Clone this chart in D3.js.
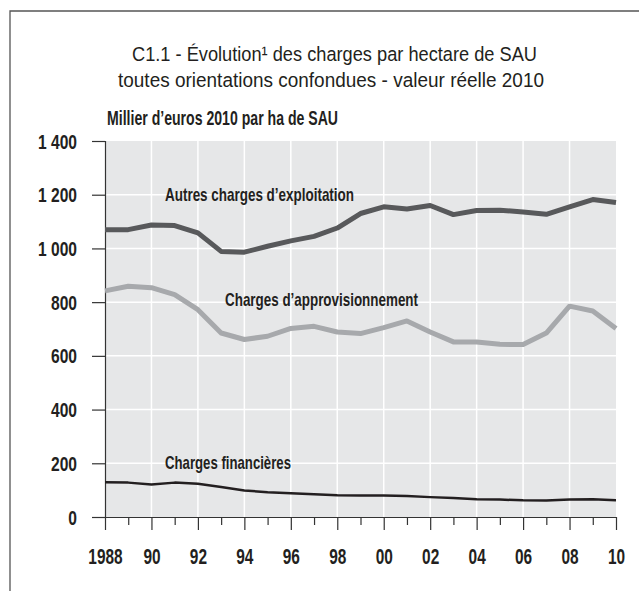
<!DOCTYPE html>
<html>
<head>
<meta charset="utf-8">
<script src="https://cdn.jsdelivr.net/npm/d3@7"></script>
<style>
  html, body { margin: 0; padding: 0; background: #ffffff; }
  svg { display: block; }
  text { font-family: "Liberation Sans", Arial, "DejaVu Sans", sans-serif; }
</style>
</head>
<body>
<svg id="chart" width="639" height="591"></svg>
<script>
// ---- Data ----
const years = [1988, 1989, 1990, 1991, 1992, 1993, 1994, 1995, 1996, 1997, 1998, 1999,
               2000, 2001, 2002, 2003, 2004, 2005, 2006, 2007, 2008, 2009, 2010];
const autresCharges = [1070, 1070, 1087, 1085, 1058, 989, 986, 1008, 1028, 1045, 1076, 1130,
                       1155, 1147, 1160, 1126, 1141, 1142, 1136, 1127, 1155, 1182, 1171];
const chargesAppro = [842, 859, 854, 828, 772, 685, 661, 673, 702, 710, 689, 683,
                      705, 730, 689, 652, 652, 643, 642, 685, 785, 767, 702];
const chargesFin = [129, 128, 121, 128, 124, 112, 99, 92, 88, 85, 81, 80,
                    80, 78, 74, 71, 66, 65, 62, 61, 65, 66, 62];
const yTicks = [0, 200, 400, 600, 800, 1000, 1200, 1400];
const yTickLabels = ["0", "200", "400", "600", "800", "1\u00a0000", "1\u00a0200", "1\u00a0400"];
const xLabelYears = [1988, 1990, 1992, 1994, 1996, 1998, 2000, 2002, 2004, 2006, 2008, 2010];
const xTickLabels = ["1988", "90", "92", "94", "96", "98", "00", "02", "04", "06", "08", "10"];
const titleLines = ["C1.1 - \u00c9volution\u00b9 des charges par hectare de SAU",
                    "toutes orientations confondues - valeur r\u00e9elle 2010"];
const unitLabel = "Millier d\u2019euros 2010 par ha de SAU";
const seriesNames = ["Autres charges d\u2019exploitation", "Charges d\u2019approvisionnement", "Charges financi\u00e8res"];

// ---- Layout ----
const svg = d3.select("#chart");
const x = d3.scaleLinear().domain([1988, 2010]).range([105, 616]);
const y = d3.scaleLinear().domain([0, 1400]).range([517, 141]);
const ink = "#231f20";

// squeeze text horizontally to mimic a condensed face
function condense(sel, factor) {
  sel.each(function () {
    const w = this.getComputedTextLength();
    if (w > 0) {
      d3.select(this).attr("textLength", w * factor).attr("lengthAdjust", "spacingAndGlyphs");
    }
  });
}
function fitWidth(sel, width) {
  sel.attr("textLength", width).attr("lengthAdjust", "spacingAndGlyphs");
}

// frame
svg.append("path")
  .attr("d", "M10,591 L10,11 L639,11")
  .attr("fill", "none").attr("stroke", "#555").attr("stroke-width", 1.3);

// title
svg.append("text").attr("x", 132).attr("y", 61)
  .attr("font-size", 20.5).attr("fill", ink)
  .text(titleLines[0]).call(fitWidth, 405);
svg.append("text").attr("x", 118).attr("y", 87)
  .attr("font-size", 20.5).attr("fill", ink)
  .text(titleLines[1]).call(fitWidth, 426);

// unit label
svg.append("text").attr("x", 107).attr("y", 125)
  .attr("font-weight", "bold").attr("font-size", 20.5).attr("fill", ink)
  .text(unitLabel).call(fitWidth, 231);

// plot background
svg.append("rect")
  .attr("x", x(1988)).attr("y", y(1400))
  .attr("width", x(2010) - x(1988)).attr("height", y(0) - y(1400))
  .attr("fill", "#e6e7e8");

// grid
const gridX = years.filter(v => v % 2 === 0 && v > 1988 && v < 2010);
svg.append("g").selectAll("line").data(gridX).join("line")
  .attr("x1", d => x(d)).attr("x2", d => x(d))
  .attr("y1", y(0)).attr("y2", y(1400))
  .attr("stroke", "#ffffff").attr("stroke-width", 1.5);
svg.append("g").selectAll("line").data(yTicks.filter(v => v > 0 && v < 1400)).join("line")
  .attr("x1", x(1988)).attr("x2", x(2010))
  .attr("y1", d => y(d)).attr("y2", d => y(d))
  .attr("stroke", "#ffffff").attr("stroke-width", 1.5);

// y axis
const yAxis = svg.append("g").attr("transform", `translate(${x(1988)},0)`)
  .call(d3.axisLeft(y).tickValues(yTicks).tickSize(13).tickPadding(15)
        .tickFormat((d, i) => yTickLabels[i]));
yAxis.attr("font-family", null);
yAxis.select(".domain").attr("stroke", "#333").attr("stroke-width", 1.2);
yAxis.selectAll(".tick line").attr("stroke", "#333").attr("stroke-width", 1.2);
yAxis.selectAll(".tick text")
  .attr("font-weight", "bold")
  .attr("font-size", 19.5).attr("fill", ink).attr("dy", "0.36em")
  .call(condense, 0.8);

// x axis
const xAxis = svg.append("g").attr("transform", `translate(0,${y(0)})`)
  .call(d3.axisBottom(x).tickValues(years).tickSize(13).tickSizeOuter(0)
        .tickFormat(d => { const k = xLabelYears.indexOf(d); return k >= 0 ? xTickLabels[k] : ""; }));
xAxis.attr("font-family", null);
xAxis.select(".domain").attr("stroke", "#333").attr("stroke-width", 1.2);
xAxis.selectAll(".tick line").attr("stroke", "#333").attr("stroke-width", 1.2)
  .attr("y2", d => d % 2 === 0 ? 13 : 8);
xAxis.selectAll(".tick text")
  .attr("font-weight", "bold")
  .attr("font-size", 22).attr("fill", ink)
  .attr("y", 47).attr("dy", "0")
  .call(condense, 0.7);

// lines
const line = d3.line().x((d, i) => x(years[i])).y(d => y(d));
const series = [
  { values: autresCharges, color: "#58595b", width: 5 },
  { values: chargesAppro, color: "#a7a9ac", width: 5 },
  { values: chargesFin, color: "#231f20", width: 2.5 }
];
svg.append("g").selectAll("path").data(series).join("path")
  .attr("d", d => line(d.values))
  .attr("fill", "none")
  .attr("stroke", d => d.color)
  .attr("stroke-width", d => d.width)
  .attr("stroke-linejoin", "round")
  .attr("stroke-linecap", "butt");

// series labels
const labelPos = [[165, 201], [225, 306], [165, 469]];
const labelWidths = [189, 193, 126];
svg.append("g").selectAll("text").data(seriesNames).join("text")
  .attr("x", (d, i) => labelPos[i][0]).attr("y", (d, i) => labelPos[i][1])
  .attr("font-weight", "bold")
  .attr("font-size", 19).attr("fill", ink)
  .attr("textLength", (d, i) => labelWidths[i]).attr("lengthAdjust", "spacingAndGlyphs")
  .text(d => d);
</script>
</body>
</html>
